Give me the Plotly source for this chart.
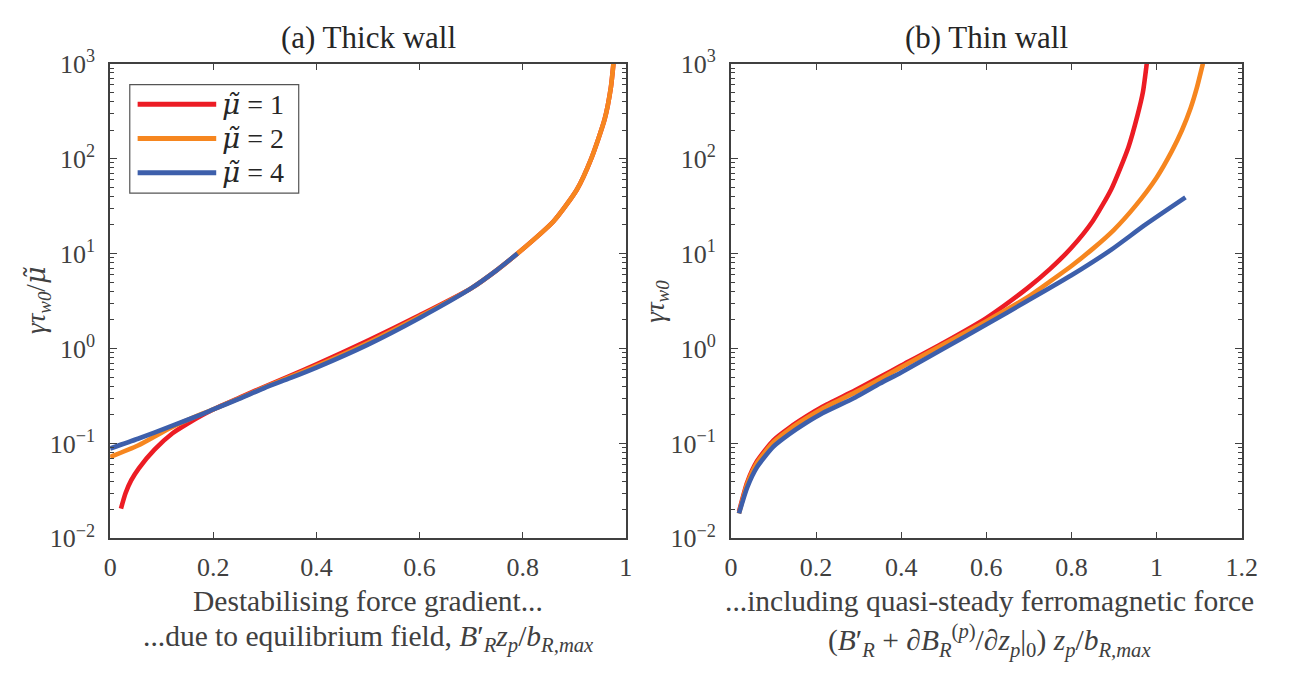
import plotly.graph_objects as go

# ---------------- data ----------------
# (a) Thick wall : gamma*tau_w0/mu~ vs B'_R z_p / b_R,max
thick_x_mu1 = [0.021, 0.03, 0.041, 0.056, 0.086, 0.121, 0.149, 0.18, 0.2, 0.25, 0.3, 0.35, 0.4, 0.5, 0.6, 0.7,
               0.75, 0.79, 0.86, 0.905, 0.933, 0.959, 0.971, 0.976]
thick_y_mu1 = [0.0206, 0.030, 0.041, 0.055, 0.086, 0.128, 0.16, 0.2, 0.228, 0.302, 0.398, 0.519, 0.68, 1.21, 2.24,
               4.3, 6.7, 10, 21.9, 47, 100, 260, 560, 1000]

thick_x_mu2 = [0.0, 0.054, 0.117, 0.18, 0.2, 0.25, 0.3, 0.35, 0.4, 0.5, 0.6, 0.7, 0.75, 0.79,
               0.86, 0.905, 0.933, 0.959, 0.971, 0.976]
thick_y_mu2 = [0.072, 0.095, 0.146, 0.207, 0.229, 0.298, 0.391, 0.504, 0.655, 1.15, 2.17, 4.3, 6.7, 10,
               21.9, 47, 100, 260, 560, 1000]

thick_x_mu4 = [0.0, 0.054, 0.117, 0.181, 0.2, 0.25, 0.3, 0.35, 0.4, 0.5, 0.6, 0.7, 0.75, 0.79]
thick_y_mu4 = [0.0885, 0.112, 0.151, 0.206, 0.228, 0.295, 0.385, 0.49, 0.63, 1.1, 2.1, 4.3, 6.7, 10]

# (b) Thin wall : gamma*tau_w0 vs (B'_R + dB_R^(p)/dz_p|0) z_p / b_R,max
thin_x_mu1 = [0.019, 0.0384, 0.0615, 0.0999, 0.138, 0.177, 0.215, 0.292, 0.35, 0.4, 0.5, 0.6, 0.696, 0.75,
              0.8, 0.85, 0.894, 0.934, 0.955, 0.968, 0.977]
thin_y_mu1 = [0.0191, 0.039, 0.0652, 0.108, 0.147, 0.192, 0.243, 0.363, 0.50, 0.66, 1.15, 2.09, 4.3, 6.9,
              11.5, 21.9, 47.9, 132, 282, 501, 1000]

thin_x_mu2 = [0.019, 0.0384, 0.0615, 0.0999, 0.138, 0.177, 0.215, 0.292, 0.35, 0.4, 0.5, 0.6, 0.696, 0.75,
              0.8, 0.85, 0.9, 0.95, 1.0, 1.036, 1.06, 1.08, 1.095, 1.109]
thin_y_mu2 = [0.0183, 0.0375, 0.0625, 0.103, 0.141, 0.184, 0.232, 0.345, 0.475, 0.635, 1.11, 1.94, 3.45, 5.1,
              7.4, 11.2, 17.8, 31.6, 63, 120, 200, 339, 562, 1000]

thin_x_mu4 = [0.019, 0.0384, 0.0615, 0.0999, 0.138, 0.177, 0.215, 0.292, 0.35, 0.4, 0.5, 0.601, 0.696, 0.8,
              0.894, 0.973, 1.068]
thin_y_mu4 = [0.0183, 0.0345, 0.0565, 0.0925, 0.126, 0.165, 0.208, 0.305, 0.427, 0.56, 1.0, 1.8, 3.16, 5.9,
              11, 20, 39]

series_labels = ["1", "2", "4"]
series_colors = ["#EC1C24", "#F6861F", "#3D5FAB"]

x_ticks_a = [0, 0.2, 0.4, 0.6, 0.8, 1]
x_ticks_b = [0, 0.2, 0.4, 0.6, 0.8, 1, 1.2]
y_tick_vals = [0.01, 0.1, 1, 10, 100, 1000]
y_tick_text = ["10<sup>−2</sup>", "10<sup>−1</sup>", "10<sup>0</sup>", "10<sup>1</sup>", "10<sup>2</sup>",
               "10<sup>3</sup>"]

# ---------------- figure ----------------
W, H = 1293, 678
FONT = "Liberation Serif, DejaVu Serif, serif"
AXC = "#404040"
TXT = "#262626"
LW = 4.6

fig = go.Figure()
thick = [(thick_x_mu1, thick_y_mu1), (thick_x_mu2, thick_y_mu2), (thick_x_mu4, thick_y_mu4)]
thin = [(thin_x_mu1, thin_y_mu1), (thin_x_mu2, thin_y_mu2), (thin_x_mu4, thin_y_mu4)]
for (xs, ys), lab, col in zip(thick, series_labels, series_colors):
    fig.add_trace(go.Scatter(x=xs, y=ys, mode="lines", line=dict(color=col, width=LW, shape="spline", smoothing=0.6),
                             name=lab, showlegend=False, xaxis="x", yaxis="y"))
for (xs, ys), lab, col in zip(thin, series_labels, series_colors):
    fig.add_trace(go.Scatter(x=xs, y=ys, mode="lines", line=dict(color=col, width=LW, shape="spline", smoothing=0.6),
                             name=lab, showlegend=False, xaxis="x2", yaxis="y2"))

def px(x):
    return x / W

def py(y):
    return 1 - y / H

common_x = dict(showline=True, linecolor=AXC, linewidth=1.6, mirror="ticks", ticks="inside", ticklen=7,
                tickwidth=1.4, tickcolor=AXC, showgrid=False, zeroline=False,
                tickfont=dict(family=FONT, size=26, color=AXC), ticklabelstandoff=5)
common_y = dict(type="log", range=[-2, 3], tickvals=y_tick_vals, ticktext=y_tick_text,
                showline=True, linecolor=AXC, linewidth=1.6, mirror="ticks", ticks="inside", ticklen=7,
                tickwidth=1.4, tickcolor=AXC, showgrid=False, zeroline=False,
                minor=dict(ticks="inside", ticklen=4, tickwidth=1.2, tickcolor=AXC, dtick="D1", showgrid=False),
                tickfont=dict(family=FONT, size=26, color=AXC), ticklabelstandoff=8)

ydom = [py(547), py(48)]
fig.update_layout(
    width=W, height=H, margin=dict(l=0, r=0, t=0, b=0),
    paper_bgcolor="white", plot_bgcolor="white",
    xaxis=dict(domain=[px(105), px(630)], range=[0, 1], tickvals=x_ticks_a, anchor="y", **common_x),
    yaxis=dict(domain=ydom, anchor="x", **common_y),
    xaxis2=dict(domain=[px(737), px(1257)], range=[0, 1.2], tickvals=x_ticks_b, anchor="y2", **common_x),
    yaxis2=dict(domain=ydom, anchor="x2", **common_y),
    font=dict(family=FONT, color=TXT),
)

ann = []
def add_text(x, y, text, size, color=TXT, angle=0, xanchor="center"):
    ann.append(dict(x=px(x), y=py(y), xref="paper", yref="paper", text=text, showarrow=False,
                    font=dict(family=FONT, size=size, color=color), textangle=angle,
                    xanchor=xanchor, yanchor="middle", borderpad=0))

MU = '<span style="font-family:DejaVu Serif"><i>μ̃</i></span>'
add_text(368, 21, "(a) Thick wall", 31)
add_text(997, 21, "(b) Thin wall", 31)
add_text(368, 613, "Destabilising force gradient...", 29.5, AXC)
add_text(368, 652, "...due to equilibrium field, <i>B</i>′<sub><i>R</i></sub><i>z<sub>p</sub></i>/<i>b<sub>R,max</sub></i>", 29.5, AXC)
add_text(1000, 613, "...including quasi-steady ferromagnetic force", 29.5, AXC)
add_text(1000, 655, "(<i>B</i>′<sub><i>R</i></sub> + ∂<i>B</i><sub><i>R</i></sub><sup>(<i>p</i>)</sup>/∂<i>z<sub>p</sub></i>|<sub>0</sub>) <i>z<sub>p</sub></i>/<i>b<sub>R,max</sub></i>", 29.5, AXC)
add_text(31, 297, "<i>γτ<sub>w0</sub></i>/" + MU, 27, AXC, angle=-90)
add_text(662, 298, "<i>γτ<sub>w0</sub></i>", 27, AXC, angle=-90)

# legend (drawn manually to match the long line samples)
shapes = [dict(type="rect", xref="paper", yref="paper", x0=px(125), x1=px(297), y0=py(184), y1=py(70),
               line=dict(color="#555555", width=1.2), fillcolor="white", layer="above")]
leg_y = [90.7, 126.7, 162.7]
for lab, col, yy in zip(series_labels, series_colors, leg_y):
    shapes.append(dict(type="line", xref="paper", yref="paper", x0=px(133), x1=px(213), y0=py(yy), y1=py(yy),
                       line=dict(color=col, width=5), layer="above"))
    add_text(218, yy, MU + " = " + lab, 28, TXT, xanchor="left")

fig.update_layout(annotations=ann, shapes=shapes)
fig.write_html("out.html")
